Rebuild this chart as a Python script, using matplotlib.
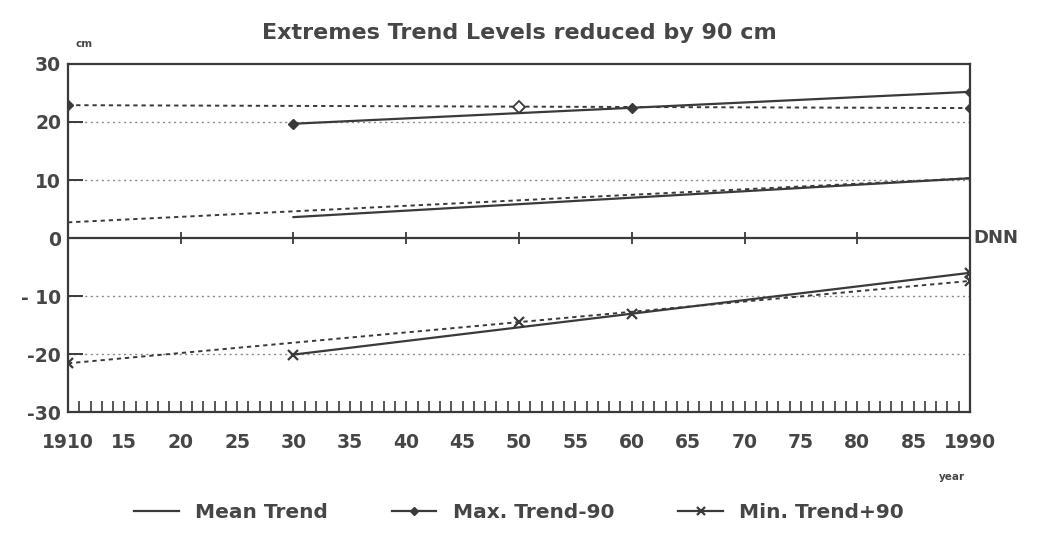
import numpy as np
import matplotlib.pyplot as plt

# trend lines: start / middle / end of each fit
all_years = [1910, 1950, 1990]
recent_years = [1930, 1960, 1990]

mean_all = [2.7, 6.5, 10.3]
mean_recent = [3.6, 6.95, 10.3]
max_all = [22.9, 22.65, 22.4]
max_recent = [19.7, 22.45, 25.2]
min_all = [-21.6, -14.5, -7.4]
min_recent = [-20.1, -13.05, -6.0]

dnn_years = [1910, 1920, 1930, 1940, 1950, 1960, 1970, 1980, 1990]
dnn_level = [0, 0, 0, 0, 0, 0, 0, 0, 0]

grid_levels = [20, 10, -10, -20]
y_ticks = [-30, -20, -10, 0, 10, 20, 30]
y_labels = ['-30', '-20', '- 10', '0', '10', '20', '30']
x_ticks = [1910, 1915, 1920, 1925, 1930, 1935, 1940, 1945, 1950,
           1955, 1960, 1965, 1970, 1975, 1980, 1985, 1990]
x_labels = ['1910', '15', '20', '25', '30', '35', '40', '45', '50',
            '55', '60', '65', '70', '75', '80', '85', '1990']

ink = '#3a3a3a'
txt = '#464646'
dots = (0, (2.2, 2.0))

plt.rcParams['font.family'] = ['DejaVu Sans']
plt.rcParams['font.weight'] = 'bold'

fig = plt.figure(figsize=(10.38, 5.4), dpi=100)
ax = fig.add_axes([0.0655, 0.237, 0.869, 0.6445])

for g in grid_levels:
    ax.axhline(g, color='#8a8a8a', lw=1.0, ls=(0, (1.5, 2.5)), zorder=1)

ax.plot(dnn_years, dnn_level, color=ink, lw=1.6, marker='|', ms=9, mew=1.3)

# mean
ax.plot(all_years, mean_all, color=ink, lw=1.4, ls=dots)
l_mean, = ax.plot(recent_years, mean_recent, color=ink, lw=1.6)

# max
ax.plot(all_years, max_all, color=ink, lw=1.4, ls=dots, marker='D', ms=5)
ax.plot(all_years[1], max_all[1], 'D', color=ink, mfc='white', ms=6, mew=1.3)
l_max, = ax.plot(recent_years, max_recent, color=ink, lw=1.6, marker='D', ms=5)

# min
ax.plot(all_years, min_all, color=ink, lw=1.4, ls=dots, marker='x', ms=7, mew=1.6)
l_min, = ax.plot(recent_years, min_recent, color=ink, lw=1.6, marker='x', ms=7, mew=1.6)

ax.set_xlim(1910, 1990)
ax.set_ylim(-30, 30)
ax.set_yticks(y_ticks)
ax.set_yticklabels(y_labels)
ax.set_xticks(x_ticks)
ax.set_xticklabels(x_labels)
ax.set_xticks(np.arange(1910, 1991, 1), minor=True)

ax.tick_params(axis='x', which='both', direction='in', length=8, width=1.2,
               color=ink, pad=15, labelsize=13.5, labelcolor=txt)
ax.tick_params(axis='y', direction='in', length=11, width=1.4, color=ink,
               pad=5, labelsize=13.5, labelcolor=txt)
for s in ax.spines.values():
    s.set_color(ink)
    s.set_linewidth(1.6)

ax.set_title('Extremes Trend Levels reduced by 90 cm', fontsize=16,
             fontweight='bold', color=txt, pad=18)
ax.text(0.008, 1.05, 'cm', transform=ax.transAxes, fontsize=7.5,
        fontweight='bold', color=txt)
ax.text(1.004, 0.5, 'DNN', transform=ax.transAxes, fontsize=13,
        fontweight='bold', color=txt, va='center', ha='left')
ax.text(0.98, -0.195, 'year', transform=ax.transAxes, fontsize=7.5,
        fontweight='bold', color=txt, ha='center')

fig.legend([l_mean, l_max, l_min], ['Mean Trend', 'Max. Trend-90', 'Min. Trend+90'],
           loc='lower center', bbox_to_anchor=(0.5, 0.0), ncol=3, frameon=False,
           prop={'size': 14.5, 'weight': 'bold'}, labelcolor=txt,
           handlelength=2.2, columnspacing=3.2, markerscale=0.8)

fig.savefig('out.png', dpi=100)
